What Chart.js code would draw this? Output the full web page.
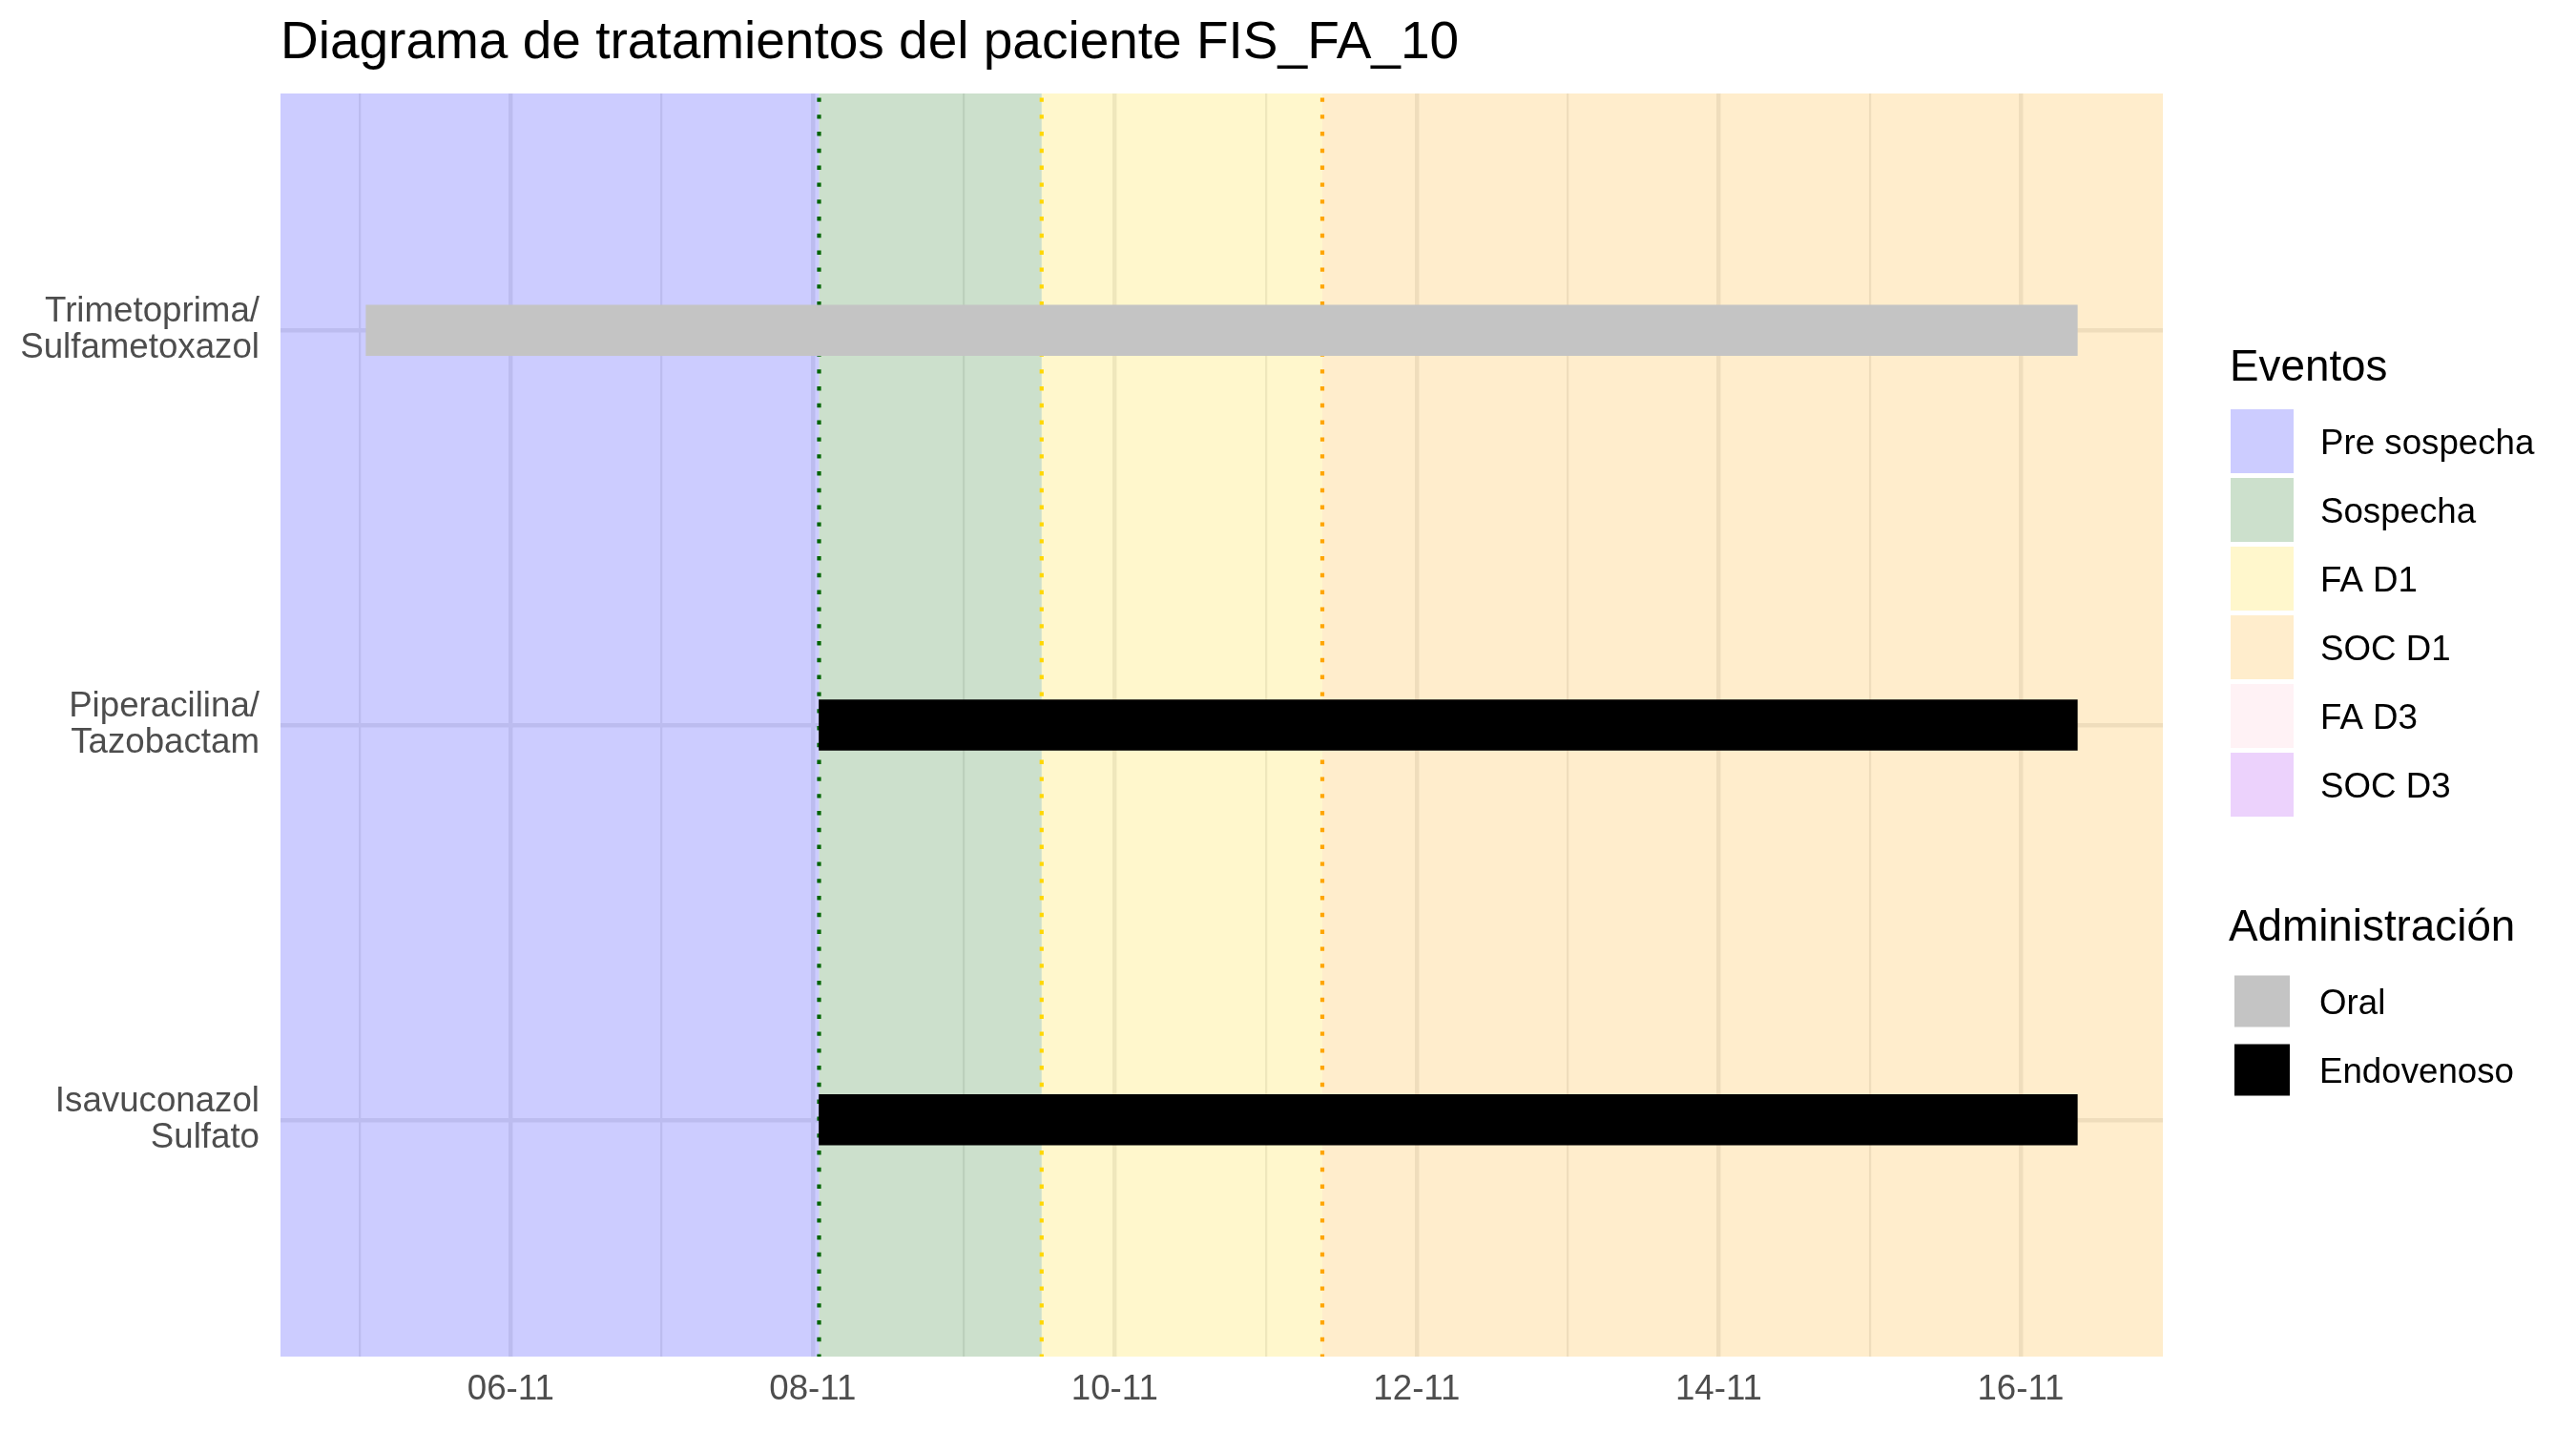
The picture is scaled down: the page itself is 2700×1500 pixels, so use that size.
<!DOCTYPE html>
<html>
<head>
<meta charset="utf-8">
<script src="https://cdn.jsdelivr.net/npm/chart.js@4/dist/chart.umd.min.js"></script>
<style>
  html, body { margin: 0; padding: 0; background: #ffffff; }
  #wrap { position: relative; width: 2700px; height: 1500px; }
  canvas { display: block; }
</style>
</head>
<body>
<div id="wrap"><canvas id="c" width="2700" height="1500"></canvas></div>
<script>
// ---------------- DATA ----------------
const chartTitle = 'Diagrama de tratamientos del paciente FIS_FA_10';

// Treatments (y categories, top to bottom)
const drugs = [
  ['Trimetoprima/', 'Sulfametoxazol'],
  ['Piperacilina/', 'Tazobactam'],
  ['Isavuconazol', 'Sulfato']
];
// start / end as fractional day of November
const startDay = [5.042, 8.042, 8.042];
const endDay   = [16.375, 16.375, 16.375];
const route    = ['Oral', 'Endovenoso', 'Endovenoso'];

// Administración legend
const routeNames  = ['Oral', 'Endovenoso'];
const routeColors = ['#C4C4C4', '#000000'];

// Eventos legend
const phaseNames  = ['Pre sospecha', 'Sospecha', 'FA D1', 'SOC D1', 'FA D3', 'SOC D3'];
const phaseColors = ['rgba(0,0,255,0.2)', 'rgba(0,100,0,0.2)', 'rgba(255,215,0,0.2)',
                     'rgba(255,165,0,0.2)', 'rgba(255,192,203,0.2)', 'rgba(160,32,240,0.2)'];
// phases present in the panel (first four), day of November
const phaseStart = [-Infinity, 8.042, 9.516, 11.375];
const phaseEnd   = [8.042, 9.516, 11.375, Infinity];

// dotted event markers
const markerDay   = [8.042, 9.516, 11.375];
const markerColor = ['#006400', '#FFD700', '#FFA500'];

// x ticks
const majorTickDays   = [6, 8, 10, 12, 14, 16];
const majorTickLabels = ['06-11', '08-11', '10-11', '12-11', '14-11', '16-11'];
const minorTickDays   = [5, 7, 9, 11, 13, 15];

// ---------------- CHART ----------------
const FONT = "'Liberation Sans', Arial, Helvetica, sans-serif";
Chart.defaults.font.family = FONT;

const dataMin = Math.min(...startDay);
const dataMax = Math.max(...endDay);
const span = dataMax - dataMin;
const xMin = dataMin - 0.05 * span;
const xMax = dataMax + 0.05 * span;

const barData = drugs.map((d, i) => ({ x: [startDay[i], endDay[i]], y: i + 1 }));
const barColors = route.map(r => routeColors[routeNames.indexOf(r)]);

const decorPlugin = {
  id: 'decor',
  beforeDraw(chart) {
    const ctx = chart.ctx;
    ctx.save();
    ctx.fillStyle = '#ffffff';
    ctx.fillRect(0, 0, chart.width, chart.height);
    ctx.restore();
  },
  beforeDatasetsDraw(chart) {
    const ctx = chart.ctx;
    const a = chart.chartArea;
    const xs = chart.scales.x;
    ctx.save();
    ctx.beginPath();
    ctx.rect(a.left, a.top, a.right - a.left, a.bottom - a.top);
    ctx.clip();
    phaseStart.forEach((s, i) => {
      const x0 = Number.isFinite(s) ? xs.getPixelForValue(s) : a.left;
      const x1 = Number.isFinite(phaseEnd[i]) ? xs.getPixelForValue(phaseEnd[i]) : a.right;
      ctx.fillStyle = phaseColors[i];
      ctx.fillRect(x0, a.top, x1 - x0, a.bottom - a.top);
    });
    ctx.lineWidth = 4.2;
    ctx.setLineDash([4.4, 13.4]);
    ctx.lineCap = 'butt';
    markerDay.forEach((d, i) => {
      const x = xs.getPixelForValue(d);
      ctx.strokeStyle = markerColor[i];
      ctx.beginPath();
      ctx.moveTo(x, a.bottom + 2);
      ctx.lineTo(x, a.top);
      ctx.stroke();
    });
    ctx.restore();
  },
  afterDraw(chart) {
    const ctx = chart.ctx;
    const a = chart.chartArea;
    ctx.save();
    // title
    ctx.fillStyle = '#000000';
    ctx.textAlign = 'left';
    ctx.textBaseline = 'alphabetic';
    ctx.font = '55px ' + FONT;
    ctx.fillText(chartTitle, a.left, 61);

    // Eventos legend
    const legX = a.right + 70;
    ctx.font = '45.8px ' + FONT;
    ctx.fillText('Eventos', legX, 399);
    ctx.font = '36.7px ' + FONT;
    phaseNames.forEach((n, i) => {
      const cy = 462.5 + 72 * i;
      ctx.fillStyle = '#ffffff';
      ctx.fillRect(legX + 1, cy - 33.5, 66, 67);
      ctx.fillStyle = phaseColors[i];
      ctx.fillRect(legX + 1, cy - 33.5, 66, 67);
      ctx.fillStyle = '#000000';
      ctx.fillText(n, legX + 95, cy + 13);
    });

    // Administración legend
    ctx.font = '45.8px ' + FONT;
    ctx.fillText('Administración', legX - 1, 986);
    ctx.font = '36.7px ' + FONT;
    routeNames.forEach((n, i) => {
      const cy = 1049.5 + 72 * i;
      ctx.fillStyle = routeColors[i];
      ctx.fillRect(legX + 5, cy - 27, 58, 54);
      ctx.fillStyle = '#000000';
      ctx.fillText(n, legX + 94, cy + 13);
    });
    ctx.restore();
  }
};

new Chart(document.getElementById('c'), {
  type: 'bar',
  data: {
    datasets: [{
      data: barData,
      backgroundColor: barColors,
      borderWidth: 0,
      barThickness: 53
    }]
  },
  options: {
    indexAxis: 'y',
    responsive: false,
    animation: false,
    devicePixelRatio: 1,
    layout: { padding: { top: 98, right: 433, bottom: 0, left: 0 } },
    plugins: {
      legend: { display: false },
      tooltip: { enabled: false },
      title: { display: false }
    },
    scales: {
      x: {
        type: 'linear',
        position: 'bottom',
        min: xMin,
        max: xMax,
        offset: false,
        afterBuildTicks(scale) {
          scale.ticks = [...minorTickDays, ...majorTickDays].sort((p, q) => p - q).map(v => ({ value: v }));
        },
        afterFit(scale) { scale.height = 78; },
        ticks: {
          autoSkip: false,
          maxRotation: 0,
          minRotation: 0,
          padding: 13,
          color: '#4D4D4D',
          font: { size: 36.7 },
          callback(value) {
            const k = majorTickDays.indexOf(value);
            return k >= 0 ? majorTickLabels[k] : '';
          }
        },
        grid: {
          color: '#EBEBEB',
          lineWidth: (c) => (c.tick && majorTickDays.includes(c.tick.value)) ? 4.4 : 2.2,
          drawTicks: false,
          offset: false
        },
        border: { display: false }
      },
      y: {
        type: 'linear',
        position: 'left',
        reverse: true,
        min: 0.4,
        max: 3.6,
        offset: false,
        afterBuildTicks(scale) {
          scale.ticks = drugs.map((d, i) => ({ value: i + 1 }));
        },
        afterFit(scale) { scale.width = 294; },
        ticks: {
          autoSkip: false,
          padding: 22,
          color: '#4D4D4D',
          font: { size: 36.7, lineHeight: 1.03 },
          callback(value) { return drugs[value - 1] || ''; }
        },
        grid: {
          color: '#EBEBEB',
          lineWidth: 4.4,
          drawTicks: false,
          offset: false
        },
        border: { display: false }
      }
    }
  },
  plugins: [decorPlugin]
});
</script>
</body>
</html>
